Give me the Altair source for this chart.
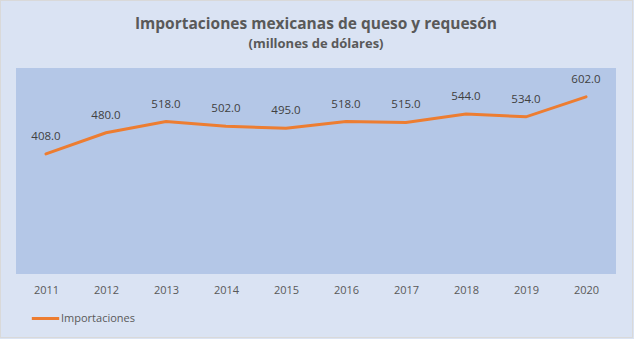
import altair as alt
import pandas as pd

years = ["2011", "2012", "2013", "2014", "2015", "2016", "2017", "2018", "2019", "2020"]
values = [408.0, 480.0, 518.0, 502.0, 495.0, 518.0, 515.0, 544.0, 534.0, 602.0]
series = "Importaciones"

df = pd.DataFrame({"year": years, "value": values, "serie": [series] * len(years)})

FONT = "Open Sans"
GREY = "#595959"

x = alt.X("year:N", sort=years, title=None,
          scale=alt.Scale(paddingOuter=0.5),
          axis=alt.Axis(labelAngle=0, domain=False, ticks=False, labelColor=GREY,
                        labelFontSize=11, labelFont=FONT, labelPadding=10, grid=False))
y = alt.Y("value:Q", title=None, scale=alt.Scale(domain=[0, 700]), axis=None)

line = alt.Chart(df).mark_line(strokeWidth=3, strokeCap="round").encode(
    x=x, y=y,
    color=alt.Color("serie:N", scale=alt.Scale(range=["#ED7D31"]),
                    legend=alt.Legend(title=None, orient="none", legendX=14, legendY=235,
                                      symbolType="stroke", symbolSize=750,
                                      symbolStrokeWidth=3, labelFont=FONT,
                                      labelFontSize=11, labelColor=GREY, labelOffset=0)),
)

labels = alt.Chart(df).mark_text(dy=-17, fontSize=11.5, font=FONT, color="#404040").encode(
    x=x, y=y, text=alt.Text("value:Q", format=".1f")
)

frame = alt.Chart(df).mark_rect(fill=None, stroke="#D9D9D9", strokeWidth=1, clip=False).encode(
    x=alt.value(-15.5), x2=alt.value(616.5), y=alt.value(-67.5), y2=alt.value(269.5)
)

chart = alt.layer(frame, line, labels).properties(
    width=600, height=206,
    padding={"left": 16, "top": 68, "right": 18, "bottom": 65},
    autosize=alt.AutoSizeParams(type="none"),
    background="#DAE3F3",
    title=alt.TitleParams(
        "Importaciones mexicanas de queso y requesón",
        subtitle="(millones de dólares)",
        font=FONT, fontSize=15.5, fontWeight="bold", color=GREY,
        subtitleFont=FONT, subtitleFontSize=13, subtitleFontWeight="bold",
        subtitleColor=GREY, anchor="middle", offset=-51, subtitlePadding=6,
        frame="group",
    ),
).configure_view(fill="#B4C7E7", stroke=None)

chart.save("out.html", embed_options={"renderer": "svg", "actions": False})
